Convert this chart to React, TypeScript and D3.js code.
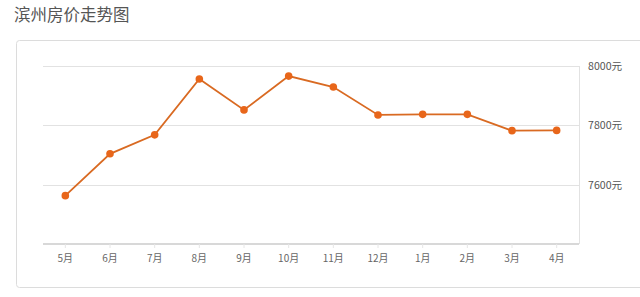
import React from "react";
import * as d3 from "d3";

const months = ["5月", "6月", "7月", "8月", "9月", "10月", "11月", "12月", "1月", "2月", "3月", "4月"];
const prices = [7563, 7704, 7768, 7956, 7852, 7966, 7929, 7835, 7837, 7837, 7782, 7783];
const yTicks = [7600, 7800, 8000];
const title = "滨州房价走势图";

export default function App() {
  const W = 640, H = 297;
  const left = 43, right = 579, top = 66, bottom = 244;
  const x = d3.scaleBand<string>().domain(months).range([left, right]);
  const y = d3.scaleLinear().domain([7400, 8000]).range([bottom, top]);
  const cx = (m: string) => (x(m) as number) + x.bandwidth() / 2;
  const line = d3.line<number>().x((_, i) => cx(months[i])).y((d) => y(d));
  const font = "'Noto Sans CJK SC', 'Noto Sans', sans-serif";
  return (
    <svg width={W} height={H} style={{ position: "absolute", left: 0, top: 0, background: "#fff" }}>
      <text x={14} y={21} fontSize={16.5} fill="#555" fontFamily={font}>{title}</text>
      <rect x={16.5} y={40.5} width={640} height={247} rx={3} fill="#fff" stroke="#dcdcdc" />
      {yTicks.map((t) => (
        <g key={t}>
          <line x1={left} x2={right} y1={Math.round(y(t)) + 0.5} y2={Math.round(y(t)) + 0.5} stroke="#e2e2e2" />
          <text x={588} y={y(t) + 4} fontSize={10.6} fill="#555" fontFamily={font}>{t}元</text>
        </g>
      ))}
      <line x1={left} x2={right} y1={top + 0.5} y2={top + 0.5} stroke="#e2e2e2" />
      <line x1={right + 0.5} x2={right + 0.5} y1={top} y2={bottom} stroke="#e2e2e2" />
      <line x1={left} x2={right} y1={bottom} y2={bottom} stroke="#d8d8d8" strokeWidth={2} />
      {months.map((m) => (
        <g key={m}>
          <line x1={cx(m)} x2={cx(m)} y1={bottom} y2={bottom + 4} stroke="#e6e6e6" />
          <text x={cx(m)} y={262} fontSize={10} fill="#666" textAnchor="middle" fontFamily={font}>{m}</text>
        </g>
      ))}
      <path d={line(prices) || ""} fill="none" stroke="#d96a22" strokeWidth={1.8} />
      {prices.map((p, i) => (
        <circle key={i} cx={cx(months[i])} cy={y(p)} r={3.8} fill="#e8661a" />
      ))}
    </svg>
  );
}
